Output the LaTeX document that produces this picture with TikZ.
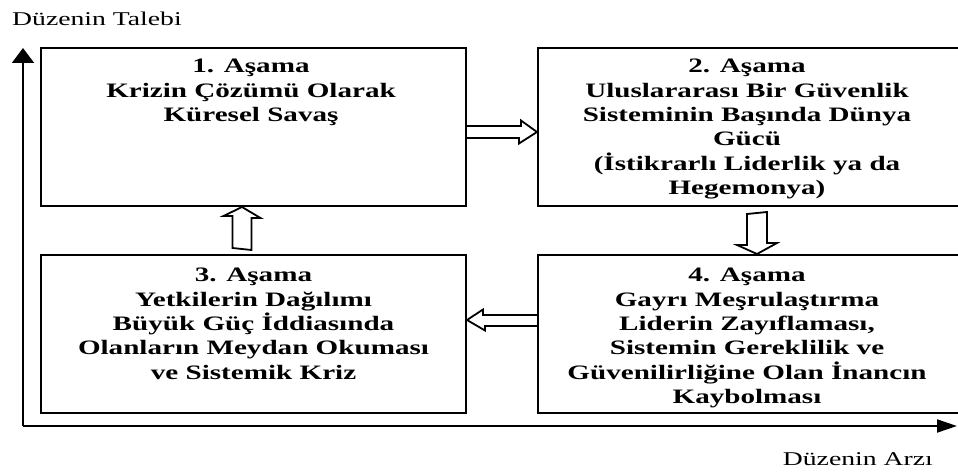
\documentclass[tikz,border=0pt]{standalone}
\usepackage{fontspec}
\setmainfont{Liberation Serif}[FakeStretch=1.42]
\usepackage{tikz}
\usetikzlibrary{arrows.meta,calc,positioning}

\begin{document}
\begin{tikzpicture}[
x=1pt, y=1pt,
stage/.style  = {minimum width=#1, minimum height=158pt,
                 draw, line width=2pt, inner sep=0pt},
stext/.style  = {inner sep=0pt, align=center,
                 font=\bfseries\fontsize{20.5}{24.4}\selectfont},
axtext/.style = {inner sep=0pt,
                 font=\fontsize{19.5}{23}\selectfont},
Axis/.style   = {line width=2pt},
Block/.style  = {line width=1.8pt, line join=miter},
                    ]
\useasboundingbox (0,0) rectangle (958,472);

\node[stage=425pt]  (s1) at (253.5,345) {};
\node[stage=423pt]  (s2) at (749.5,345) {};
\node[stage=425pt]  (s3) at (253.5,138) {};
\node[stage=423pt]  (s4) at (749.5,138) {};

\node[stext, below=12pt of s1.north, xshift=-2.5pt] (t1)
    {1. Aşama\\Krizin Çözümü Olarak\\Küresel Savaş};
\node[stext, below=12pt of s2.north, xshift=-2.5pt] (t2)
    {2. Aşama\\Uluslararası Bir Güvenlik\\Sisteminin Başında Dünya\\Gücü\\(İstikrarlı Liderlik ya da\\Hegemonya)};
\node[stext, below=14pt of s3.north] (t3)
    {3. Aşama\\Yetkilerin Dağılımı\\Büyük Güç İddiasında\\Olanların Meydan Okuması\\ve Sistemik Kriz};
\node[stext, below=14pt of s4.north, xshift=-2.5pt] (t4)
    {4. Aşama\\Gayrı Meşrulaştırma\\Liderin Zayıflaması,\\Sistemin Gereklilik ve\\Güvenilirliğine Olan İnancın\\Kaybolması};

% axes
\coordinate (o)  at (23,46);
\coordinate (yt) at (23,424);
\coordinate (xt) at (957,46);
\draw[Axis, -{Triangle[length=15pt,width=22pt]}] (o) -- (yt);
\draw[Axis, -{Triangle[length=20pt,width=13pt]}] (o) -- (xt);
\node[axtext, anchor=base west] (dt) at (12,446) {Düzenin Talebi};
\node[axtext, anchor=base east] (da) at (933,7)  {Düzenin Arzı};

% block arrows
\draw[Block] ($(s1.east)+(0,1)$) -- ++(54,0) -- ++(0,5.5)
    -- ($(s2.west)+(0,-5)$) -- ++(-18,-11.5) -- ++(0,5.5)
    -- ($(s1.east)+(0,-11)$);
\draw[Block] ($(s2.south)+(-2.5,-7)$) -- ++(0,-31) -- ++(-10,0)
    -- ($(s4.north)+(7.5,0)$) -- ++(20,11) -- ++(-10,0)
    -- ++(0,31) -- cycle;
\draw[Block] ($(s4.west)+(0,19)$) -- ++(-54,0) -- ++(0,5.5)
    -- ($(s3.east)+(0,14)$) -- ++(18,-10.5) -- ++(0,4.5)
    -- ($(s4.west)+(0,8)$);
\draw[Block] ($(s3.north)+(-21,6)$) -- ++(0,32) -- ++(-9,0)
    -- ($(s1.south)+(-11.5,0)$) -- ++(18.5,-11) -- ++(-9,0)
    -- ++(0,-32) -- cycle;
\end{tikzpicture}
\end{document}
